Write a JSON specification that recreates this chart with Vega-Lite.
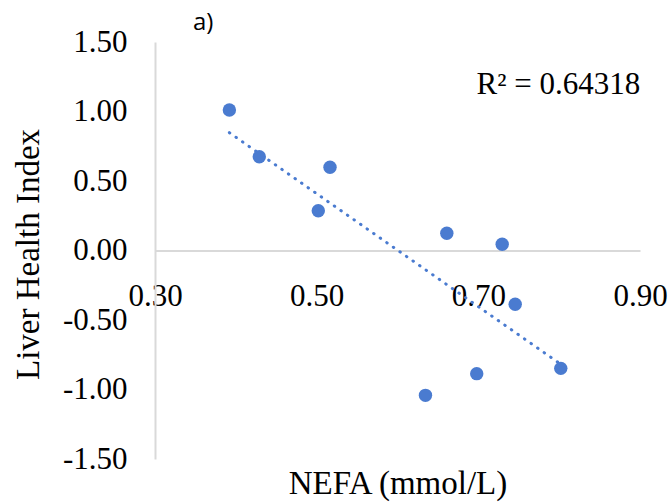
{
  "$schema": "https://vega.github.io/schema/vega-lite/v6.json",
  "width": 485,
  "height": 417,
  "autosize": "none",
  "padding": {"left": 155, "top": 42, "right": 30, "bottom": 45},
  "background": "white",
  "config": {"view": {"stroke": null}},
  "title": {"text": "a)", "anchor": "start", "frame": "group", "dx": 38, "dy": 9, "offset": 0, "font": "Open Sans", "fontSize": 24, "fontWeight": "normal", "color": "#000000"},
  "data": {"values": [
    {"nefa": 0.392, "lhi": 1.011},
    {"nefa": 0.429, "lhi": 0.675},
    {"nefa": 0.502, "lhi": 0.286},
    {"nefa": 0.5165, "lhi": 0.599},
    {"nefa": 0.661, "lhi": 0.124},
    {"nefa": 0.7295, "lhi": 0.045},
    {"nefa": 0.7456, "lhi": -0.387},
    {"nefa": 0.802, "lhi": -0.848},
    {"nefa": 0.698, "lhi": -0.886},
    {"nefa": 0.6346, "lhi": -1.042}
  ]},
  "encoding": {
    "x": {"field": "nefa", "type": "quantitative",
      "scale": {"domain": [0.3, 0.9], "nice": false, "zero": false},
      "axis": {"values": [0.3, 0.5, 0.7, 0.9], "format": ".2f", "offset": -208.5, "labelFlush": false,
        "ticks": false, "grid": false, "domainColor": "#d9d9d9", "domainWidth": 2,
        "labelFont": "Liberation Serif", "labelFontSize": 31, "labelColor": "#000000", "labelPadding": 31,
        "title": "NEFA (mmol/L)", "titleFont": "Liberation Serif", "titleFontSize": 33, "titleFontWeight": "normal", "titleColor": "#000000",
        "titleY": 242.5, "titleBaseline": "alphabetic"}},
    "y": {"field": "lhi", "type": "quantitative",
      "scale": {"domain": [-1.5, 1.5], "nice": false, "zero": false},
      "axis": {"values": [-1.5, -1, -0.5, 0, 0.5, 1, 1.5], "labelExpr": "replace(format(datum.value, '.2f'), '\u2212', '-')", "labelFlush": false,
        "ticks": false, "grid": false, "domainColor": "#d9d9d9", "domainWidth": 2,
        "labelFont": "Liberation Serif", "labelFontSize": 31, "labelColor": "#000000", "labelPadding": 28,
        "title": "Liver Health Index", "titleFont": "Liberation Serif", "titleFontSize": 33, "titleFontWeight": "normal", "titleColor": "#000000",
        "titleX": -117, "titleY": 212, "titleBaseline": "alphabetic"}}
  },
  "layer": [
    {
      "transform": [{"regression": "lhi", "on": "nefa"}],
      "mark": {"type": "line", "color": "#4a7bd0", "strokeWidth": 3, "strokeDash": [0.5, 7.5], "strokeCap": "round"}
    },
    {
      "mark": {"type": "circle", "color": "#4a7bd0", "opacity": 1, "size": 180}
    },
    {
      "data": {"values": [{"label": "R² = 0.64318", "x": 0.799, "y": 1.126}]},
      "mark": {"type": "text", "font": "Liberation Serif", "fontSize": 31, "align": "center", "baseline": "alphabetic", "color": "#000000"},
      "encoding": {
        "x": {"field": "x", "type": "quantitative"},
        "y": {"field": "y", "type": "quantitative"},
        "text": {"field": "label"}
      }
    }
  ]
}
